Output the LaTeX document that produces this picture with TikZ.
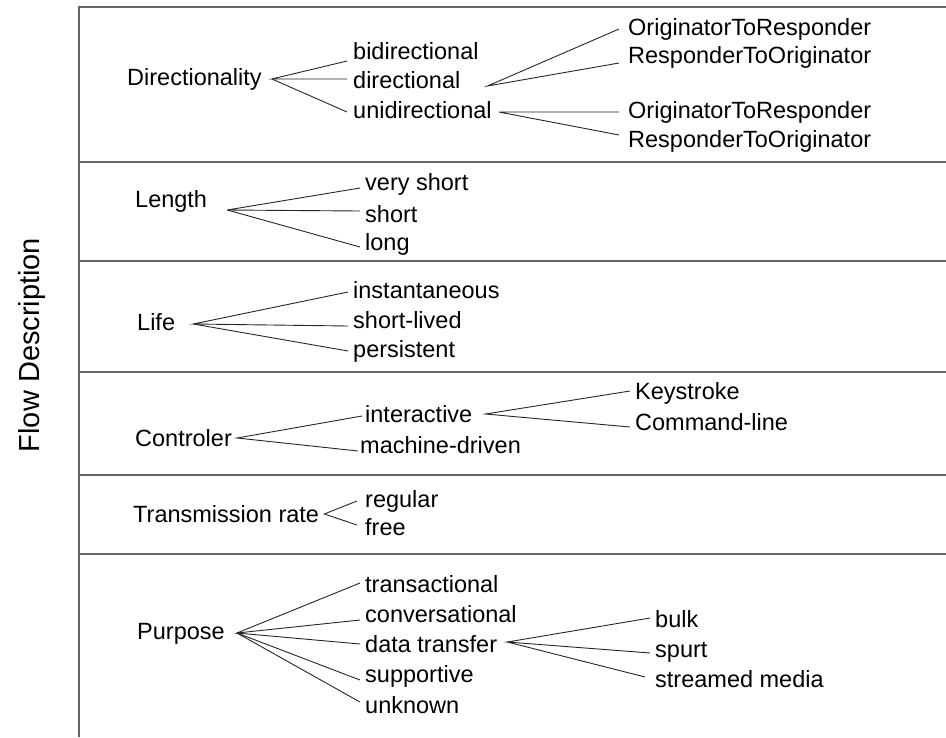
\documentclass[tikz,border=0pt]{standalone}
\usepackage{fontspec}
\setmainfont{Liberation Sans}
\begin{document}
\begin{tikzpicture}[x=1pt,y=-1pt,
  lbl/.style={anchor=base west,inner sep=0pt,font=\fontsize{23.5}{26}\selectfont,
              text height=17pt,text depth=5pt},
  link/.style={draw=black!85,line width=0.9pt},
  rule/.style={draw=black!60,line width=2pt}]
\useasboundingbox (0,0) rectangle (946,737);

% frame: left spine, top edge and the row separators
\draw[rule] (79,7) -- (79,737);
\foreach \yy in {7,162,261,372,475,554}
  \draw[rule] (78,\yy) -- (946,\yy);

\node[rotate=90,inner sep=0pt,font=\fontsize{29}{32}\selectfont] (title) at (32,345) {Flow Description};

% --- Directionality
\node[lbl] (dir)  at (127,85)  {Directionality};
\node[lbl] (bi)   at (353,59)  {bidirectional};
\node[lbl] (di)   at (353,88)  {directional};
\node[lbl] (uni)  at (353,118) {unidirectional};
\node[lbl] (or1)  at (628,35)  {OriginatorToResponder};
\node[lbl] (ro1)  at (628,63)  {ResponderToOriginator};
\node[lbl] (or2)  at (628,118) {OriginatorToResponder};
\node[lbl] (ro2)  at (628,147) {ResponderToOriginator};
\draw[link] ([xshift=-6pt,yshift=-8pt]bi.west) -- ([xshift=10pt]dir.east) -- ([xshift=-6pt,yshift=3pt]di.west);
\draw[link] ([xshift=10pt]dir.east) -- ([xshift=-6pt]uni.west);
\draw[link] ([xshift=-9pt]or1.west) -- ([xshift=27pt,yshift=-4pt]di.east) -- ([xshift=-9pt,yshift=-6pt]ro1.west);
\draw[link] ([xshift=-9pt]or2.west) -- ([xshift=7pt]uni.east) -- ([xshift=-9pt,yshift=6pt]ro2.west);

% --- Length
\node[lbl] (len)  at (135,207) {Length};
\node[lbl] (vs)   at (365,190) {very short};
\node[lbl] (sh)   at (365,222) {short};
\node[lbl] (lo)   at (365,250) {long};
\draw[link] ([xshift=-5pt,yshift=-4pt]vs.west) -- ([xshift=20pt,yshift=-9pt]len.east) -- ([xshift=-5pt,yshift=5pt]sh.west);
\draw[link] ([xshift=20pt,yshift=-9pt]len.east) -- ([xshift=-5pt,yshift=-3pt]lo.west);

% --- Life
\node[lbl] (life) at (137,330) {Life};
\node[lbl] (inst) at (353,298) {instantaneous};
\node[lbl] (sl)   at (353,328) {short-lived};
\node[lbl] (pers) at (353,357) {persistent};
\draw[link] ([xshift=-5pt]inst.west) -- ([xshift=18pt]life.east) -- ([xshift=-5pt,yshift=-4pt]sl.west);
\draw[link] ([xshift=18pt]life.east) -- ([xshift=-5pt]pers.west);

% --- Controler
\node[lbl] (ctl)   at (135,446) {Controler};
\node[lbl] (inter) at (365,422) {interactive};
\node[lbl] (mach)  at (360,453) {machine-driven};
\node[lbl] (key)   at (635,399) {Keystroke};
\node[lbl] (cmd)   at (635,430) {Command-line};
\draw[link] ([xshift=-3pt]inter.west) -- ([xshift=5pt,yshift=2pt]ctl.east) -- ([xshift=-2pt,yshift=-4pt]mach.west);
\draw[link] ([xshift=-5pt,yshift=2pt]key.west) -- ([xshift=13pt,yshift=2pt]inter.east) -- ([xshift=-5pt,yshift=-3pt]cmd.west);

% --- Transmission rate
\node[lbl] (tr)   at (133,522) {Transmission rate};
\node[lbl] (reg)  at (365,507) {regular};
\node[lbl] (free) at (365,535) {free};
\draw[link] ([xshift=-8pt]reg.west) -- ([xshift=5pt,yshift=2pt]tr.east) -- ([xshift=-8pt,yshift=4pt]free.west);

% --- Purpose
\node[lbl] (pur)   at (137,639) {Purpose};
\node[lbl] (trans) at (365,592) {transactional};
\node[lbl] (conv)  at (365,622) {conversational};
\node[lbl] (dt)    at (365,652) {data transfer};
\node[lbl] (sup)   at (365,682) {supportive};
\node[lbl] (unk)   at (365,713) {unknown};
\node[lbl] (bulk)  at (655,627) {bulk};
\node[lbl] (spurt) at (655,657) {spurt};
\node[lbl] (sm)    at (655,687) {streamed media};
\draw[link] ([xshift=-5pt,yshift=3pt]trans.west) -- ([xshift=12pt]pur.east) -- ([xshift=-5pt,yshift=-4pt]conv.west);
\draw[link] ([xshift=12pt]pur.east) -- ([xshift=-5pt,yshift=2pt]dt.west);
\draw[link] ([xshift=12pt]pur.east) -- ([xshift=-5pt,yshift=-4pt]sup.west);
\draw[link] ([xshift=12pt]pur.east) -- ([xshift=-5pt,yshift=5pt]unk.west);
\draw[link] ([xshift=-5pt,yshift=3pt]bulk.west) -- ([xshift=10pt,yshift=4pt]dt.east) -- ([xshift=-5pt,yshift=-2pt]spurt.west);
\draw[link] ([xshift=10pt,yshift=4pt]dt.east) -- ([xshift=-10pt,yshift=4pt]sm.west);
\end{tikzpicture}
\end{document}
